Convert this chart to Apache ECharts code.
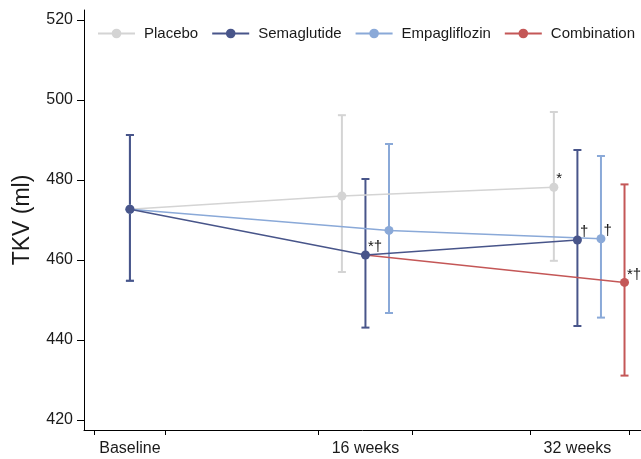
<!DOCTYPE html>
<html>
<head>
<meta charset="utf-8">
<script src="https://cdn.jsdelivr.net/npm/echarts@6/dist/echarts.min.js"></script>
<style>
html,body{margin:0;padding:0;background:#fff;}
#chart{width:641px;height:459px;}
</style>
</head>
<body>
<div id="chart"></div>
<script>
// ---- Data ----
const timepoints = ['Baseline', '16 weeks', '32 weeks'];
const arms = ['Placebo', 'Semaglutide', 'Empagliflozin', 'Combination'];

const placeboMean = [472.7, 476.0, 478.2];
const placeboLow  = [454.8, 457.0, 459.8];
const placeboHigh = [491.25, 496.2, 497.0];

const semaMean = [472.7, 461.25, 465.0];
const semaLow  = [454.8, 443.1, 443.5];
const semaHigh = [491.25, 480.25, 487.5];

const empaMean = [472.7, 467.4, 465.3];
const empaLow  = [454.8, 446.75, 445.6];
const empaHigh = [491.25, 489.0, 486.0];

// Combination arm continues from the semaglutide value at 16 weeks
const comboMean = [null, 461.25, 454.4];
const comboLow  = [null, null, 431.1];
const comboHigh = [null, null, 478.9];

// significance marks
const placeboMarks = ['', '', '*'];
const semaMarks    = ['', '*\u2020', '\u2020'];
const empaMarks    = ['', '', '\u2020'];
const comboMarks   = ['', '', '*\u2020'];

const yTicks = [420, 440, 460, 480, 500, 520];

// ---- Layout helpers ----
const groupCenter = [0, 10, 19];          // position of each timepoint on the x scale
const armOffset = [-1, 0, 1, 2];          // dodge per arm (follow-up visits only)
const colors = ['#d4d4d4', '#48558a', '#8aa9d8', '#c45757'];
const FONT = 'Liberation Sans, Arial, Helvetica, sans-serif';

const means = [placeboMean, semaMean, empaMean, comboMean];
const lows = [placeboLow, semaLow, empaLow, comboLow];
const highs = [placeboHigh, semaHigh, empaHigh, comboHigh];
const marks = [placeboMarks, semaMarks, empaMarks, comboMarks];

function xPos(t, a) {
  if (t === 0) return groupCenter[0];
  // combination point without its own CI is the shared semaglutide point
  if (a === 3 && lows[a][t] == null) return groupCenter[t] + armOffset[1];
  return groupCenter[t] + armOffset[a];
}

const series = [];
const lineOrder = [3, 0, 2, 1];
// error bars
[0, 2, 3, 1].forEach(a => {
  const d = [];
  for (let t = 0; t < timepoints.length; t++) {
    if (lows[a][t] != null && highs[a][t] != null) d.push([xPos(t, a), lows[a][t], highs[a][t]]);
  }
  series.push({
    type: 'custom',
    name: arms[a] + ' CI',
    z: 2,
    silent: true,
    data: d,
    encode: { x: 0, y: [1, 2] },
    renderItem: function (params, api) {
      const x = api.value(0);
      const pLo = api.coord([x, api.value(1)]);
      const pHi = api.coord([x, api.value(2)]);
      const cap = 4;
      const st = { stroke: colors[a], lineWidth: 2 };
      return {
        type: 'group',
        children: [
          { type: 'line', shape: { x1: pLo[0], y1: pLo[1], x2: pHi[0], y2: pHi[1] }, style: st },
          { type: 'line', shape: { x1: pHi[0] - cap, y1: pHi[1], x2: pHi[0] + cap, y2: pHi[1] }, style: st },
          { type: 'line', shape: { x1: pLo[0] - cap, y1: pLo[1], x2: pLo[0] + cap, y2: pLo[1] }, style: st }
        ]
      };
    }
  });
});
// mean lines
lineOrder.forEach((a, i) => {
  const d = [];
  for (let t = 0; t < timepoints.length; t++) {
    if (means[a][t] == null) continue;
    const hideSym = (a === 3 && lows[a][t] == null);
    const item = { value: [xPos(t, a), means[a][t]] };
    if (hideSym) item.symbolSize = 0;
    if (marks[a][t]) {
      item.label = {
        show: true,
        formatter: marks[a][t],
        position: 'right',
        distance: -2,
        offset: [0, -8],
        color: '#111',
        fontSize: 15,
        fontFamily: FONT
      };
    }
    d.push(item);
  }
  series.push({
    type: 'line',
    name: arms[a],
    z: 3 + i,
    data: d,
    symbol: 'circle',
    symbolSize: 9,
    showAllSymbol: true,
    itemStyle: { color: colors[a] },
    lineStyle: { color: colors[a], width: 1.5 },
    label: { show: false },
    emphasis: { disabled: true },
    animation: false
  });
});

const chart = echarts.init(document.getElementById('chart'), null, { renderer: 'canvas' });
chart.setOption({
  animation: false,
  backgroundColor: '#fff',
  textStyle: { fontFamily: FONT },
  legend: {
    data: arms,
    left: 97,
    top: 26,
    width: 600,
    padding: 0,
    itemWidth: 37,
    itemHeight: 12,
    itemGap: 13,
    textStyle: { fontSize: 15, color: '#1a1a1a', fontFamily: FONT, padding: [0, 0, 0, 4] },
    selectedMode: false
  },
  grid: { left: 84, right: 0, top: 10, bottom: 29, containLabel: false },
  xAxis: {
    type: 'value',
    min: -1.95,
    max: 21.7,
    splitLine: { show: false },
    axisLine: { show: true, onZero: false, lineStyle: { color: '#000', width: 1 } },
    axisTick: { show: true, length: 5, lineStyle: { color: '#000' }, customValues: [-1.5, 1.5, 8, 12, 17, 21.2] },
    axisLabel: {
      customValues: groupCenter,
      formatter: v => timepoints[groupCenter.indexOf(v)] || '',
      color: '#1a1a1a', fontSize: 16, fontFamily: FONT, margin: 11
    }
  },
  yAxis: {
    type: 'value',
    min: 417.5,
    max: 522.5,
    name: 'TKV (ml)',
    nameLocation: 'middle',
    nameGap: 50,
    nameTextStyle: { fontSize: 23, color: '#1a1a1a', fontFamily: FONT },
    splitLine: { show: false },
    axisLine: { show: true, onZero: false, lineStyle: { color: '#000', width: 1 } },
    axisTick: { show: true, length: 7, lineStyle: { color: '#000' }, customValues: yTicks },
    axisLabel: { customValues: yTicks, color: '#1a1a1a', fontSize: 16, fontFamily: FONT, margin: 11 }
  },
  series: series
});
</script>
</body>
</html>
